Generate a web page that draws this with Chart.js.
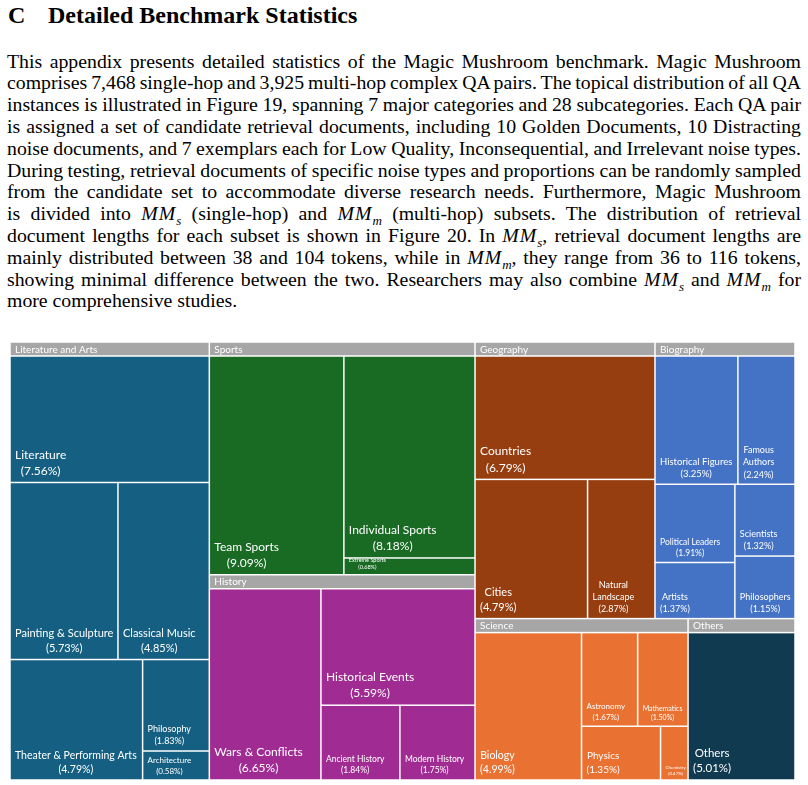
<!DOCTYPE html>
<html>
<head>
<meta charset="utf-8">
<title>Detailed Benchmark Statistics</title>
<script src="https://cdn.jsdelivr.net/npm/chart.js@4.4.1/dist/chart.umd.min.js"></script>
<style>
    body { margin: 0; background: #fff; width: 808px; height: 785px; overflow: hidden; position: relative; font-family: "Liberation Serif", "Times New Roman", serif; color: #000; }
    h2 { position: absolute; left: 8px; top: 3px; margin: 0; font-size: 24px; line-height: 24px; font-weight: bold; white-space: nowrap; }
    h2 .num { display: inline-block; width: 40px; }
    #para { position: absolute; left: 7px; top: 50.6px; width: 794px; font-size: 19.8px; line-height: 21.8px; }
    #para div { white-space: nowrap; }
    #para div span.line { display: inline-block; }
    #para i.m { letter-spacing: 1px; }
    #para sub { font-size: 13px; line-height: 0; font-style: italic; }
    #chart-wrap { position: absolute; left: 0; top: 335px; width: 808px; height: 450px; }
</style>
</head>
<body>
<h2><span class="num">C</span>Detailed Benchmark Statistics</h2>
<div id="para">
    <div><span class="line">This appendix presents detailed statistics of the Magic Mushroom benchmark. Magic Mushroom</span></div>
    <div><span class="line">comprises 7,468 single-hop and 3,925 multi-hop complex QA pairs. The topical distribution of all QA</span></div>
    <div><span class="line">instances is illustrated in Figure 19, spanning 7 major categories and 28 subcategories. Each QA pair</span></div>
    <div><span class="line">is assigned a set of candidate retrieval documents, including 10 Golden Documents, 10 Distracting</span></div>
    <div><span class="line">noise documents, and 7 exemplars each for Low Quality, Inconsequential, and Irrelevant noise types.</span></div>
    <div><span class="line">During testing, retrieval documents of specific noise types and proportions can be randomly sampled</span></div>
    <div><span class="line">from the candidate set to accommodate diverse research needs. Furthermore, Magic Mushroom</span></div>
    <div><span class="line">is divided into <i class="m">MM</i><sub>s</sub> (single-hop) and <i class="m">MM</i><sub>m</sub> (multi-hop) subsets. The distribution of retrieval</span></div>
    <div><span class="line">document lengths for each subset is shown in Figure 20. In <i class="m">MM</i><sub>s</sub>, retrieval document lengths are</span></div>
    <div><span class="line">mainly distributed between 38 and 104 tokens, while in <i class="m">MM</i><sub>m</sub>, they range from 36 to 116 tokens,</span></div>
    <div><span class="line">showing minimal difference between the two. Researchers may also combine <i class="m">MM</i><sub>s</sub> and <i class="m">MM</i><sub>m</sub> for</span></div>
    <div class="last"><span>more comprehensive studies.</span></div>
</div>
<div id="chart-wrap"><canvas id="treemap" width="808" height="450"></canvas></div>

<script>
// Major categories
const groups = ['Literature and Arts', 'Sports', 'History', 'Geography', 'Biography', 'Science', 'Others'];

// Subcategories, their share of all QA pairs (%) and the category they belong to
const subcategories = [
    'Literature', 'Painting & Sculpture', 'Classical Music', 'Theater & Performing Arts', 'Philosophy', 'Architecture',
    'Team Sports', 'Individual Sports', 'Extreme Sports',
    'Wars & Conflicts', 'Historical Events', 'Ancient History', 'Modern History',
    'Countries', 'Cities', 'Natural Landscape',
    'Historical Figures', 'Famous Authors', 'Political Leaders', 'Artists', 'Scientists', 'Philosophers',
    'Biology', 'Astronomy', 'Mathematics', 'Physics', 'Chemistry',
    'Others'
];
const shares = [
    7.56, 5.73, 4.85, 4.79, 1.83, 0.58,
    9.09, 8.18, 0.68,
    6.65, 5.59, 1.84, 1.75,
    6.79, 4.79, 2.87,
    3.25, 2.24, 1.91, 1.37, 1.32, 1.15,
    4.99, 1.67, 1.50, 1.35, 0.47,
    5.01
];
const groupOf = [
    0, 0, 0, 0, 0, 0,
    1, 1, 1,
    2, 2, 2, 2,
    3, 3, 3,
    4, 4, 4, 4, 4, 4,
    5, 5, 5, 5, 5,
    6
];

// Styles
const groupColors = ['#156082', '#196b24', '#a02b93', '#973e10', '#4472c4', '#e97132', '#0f3a50'];
const headerColor = '#a6a6a6';
const headerHeight = 14;
const labelFont = 'Lato, "Open Sans", sans-serif';
const labelSize = {
    'Literature': 12, 'Painting & Sculpture': 11, 'Classical Music': 11, 'Theater & Performing Arts': 10.5,
    'Philosophy': 9, 'Architecture': 8,
    'Team Sports': 12, 'Individual Sports': 12, 'Extreme Sports': 5.5,
    'Wars & Conflicts': 12, 'Historical Events': 12, 'Ancient History': 8.5, 'Modern History': 8.5,
    'Countries': 12, 'Cities': 11, 'Natural Landscape': 9,
    'Historical Figures': 9.5, 'Famous Authors': 9, 'Political Leaders': 8.5, 'Artists': 9, 'Scientists': 9, 'Philosophers': 9,
    'Biology': 10.5, 'Astronomy': 8, 'Mathematics': 7, 'Physics': 10, 'Chemistry': 4.5,
    'Others': 11.5
};

// How the rectangles are sliced: 'h' = side by side, 'v' = stacked
const groupLayout = { d: 'h', c: [0, { d: 'v', c: [1, 2] }, { d: 'v', c: [{ d: 'h', c: [3, 4] }, { d: 'h', c: [5, 6] }] }] };
const cellLayout = [
    { d: 'v', c: [0, { d: 'h', c: [1, 2] }, { d: 'h', c: [3, { d: 'v', c: [4, 5] }] }] },
    { d: 'h', c: [6, { d: 'v', c: [7, 8] }] },
    { d: 'h', c: [9, { d: 'v', c: [10, { d: 'h', c: [11, 12] }] }] },
    { d: 'v', c: [13, { d: 'h', c: [14, 15] }] },
    { d: 'v', c: [{ d: 'h', c: [16, 17] }, { d: 'h', c: [{ d: 'v', c: [18, 19] }, { d: 'v', c: [20, 21] }] }] },
    { d: 'h', c: [22, { d: 'v', c: [{ d: 'h', c: [23, 24] }, { d: 'h', c: [25, 26] }] }] },
    27
];

// Justify each paragraph line to the full column width (like the typeset page)
document.querySelectorAll('#para span.line').forEach(function(span) {
    const natural = span.getBoundingClientRect().width;
    const gaps = (span.textContent.match(/ /g) || []).length;
    if (gaps > 0) span.style.wordSpacing = ((794 - natural) / gaps) + 'px';
});

const groupTotal = g => shares.reduce((s, v, i) => s + (groupOf[i] === g ? v : 0), 0);

function weightOf(node, weight) {
    if (typeof node === 'number') return weight(node);
    return node.c.reduce((s, c) => s + weightOf(c, weight), 0);
}

function slice(node, r, weight, out) {
    if (typeof node === 'number') {
        out.push({ i: node, r: r });
        return;
    }
    const total = weightOf(node, weight);
    let pos = node.d === 'h' ? r.x : r.y;
    node.c.forEach(function(c) {
        const frac = weightOf(c, weight) / total;
        const sub = node.d === 'h'
            ? { x: pos, y: r.y, w: r.w * frac, h: r.h }
            : { x: r.x, y: pos, w: r.w, h: r.h * frac };
        pos += node.d === 'h' ? sub.w : sub.h;
        slice(c, sub, weight, out);
    });
}

function wrapWords(ctx, text, maxW) {
    const words = text.split(' ');
    const lines = [];
    let line = '';
    words.forEach(function(w) {
        const test = line ? line + ' ' + w : w;
        if (line && ctx.measureText(test).width > maxW) {
            lines.push(line);
            line = w;
        } else {
            line = test;
        }
    });
    if (line) lines.push(line);
    return lines;
}

function fillBox(ctx, r, color) {
    ctx.fillStyle = color;
    ctx.fillRect(r.x + 0.75, r.y + 0.75, r.w - 1.5, r.h - 1.5);
}

const treemapPlugin = {
    id: 'treemapCells',
    afterDatasetsDraw(chart) {
        const { ctx, scales: { x, y } } = chart;
        const left = x.getPixelForValue(0);
        const right = x.getPixelForValue(1);
        const top = y.getPixelForValue(1);
        const bottom = y.getPixelForValue(0);

        const groupRects = [];
        slice(groupLayout, { x: left, y: top, w: right - left, h: bottom - top }, groupTotal, groupRects);

        ctx.save();
        groupRects.forEach(function(gr) {
            const g = gr.i;
            const r = gr.r;

            // category header strip
            const head = { x: r.x, y: r.y, w: r.w, h: headerHeight };
            fillBox(ctx, head, headerColor);
            ctx.fillStyle = '#ffffff';
            ctx.font = '10px ' + labelFont;
            ctx.textAlign = 'left';
            ctx.textBaseline = 'middle';
            ctx.fillText(groups[g], r.x + 5, r.y + headerHeight / 2 + 0.5);

            // subcategory cells
            const cells = [];
            const inner = { x: r.x, y: r.y + headerHeight, w: r.w, h: r.h - headerHeight };
            slice(cellLayout[g], inner, i => shares[i], cells);

            cells.forEach(function(cell) {
                const c = cell.r;
                const name = subcategories[cell.i];
                fillBox(ctx, c, groupColors[g]);

                const size = labelSize[name] || 10;
                ctx.font = size + 'px ' + labelFont;
                const lines = wrapWords(ctx, name, c.w - 4);
                lines.push('(' + shares[cell.i].toFixed(2) + '%)');
                const blockW = Math.max.apply(null, lines.map(l => ctx.measureText(l).width));
                const lh = size * 1.35;
                const cx = c.x + 5 + blockW / 2;
                let ly = c.y + c.h - 3.5 - lh * (lines.length - 1) - lh / 2;
                ctx.fillStyle = '#ffffff';
                ctx.textAlign = 'center';
                ctx.textBaseline = 'middle';
                lines.forEach(function(l) {
                    ctx.fillText(l, cx, ly);
                    ly += lh;
                });
            });
        });
        ctx.restore();
    }
};

const chart = new Chart(document.getElementById('treemap').getContext('2d'), {
    type: 'scatter',
    data: {
        datasets: [{ data: [], pointRadius: 0 }]
    },
    options: {
        responsive: false,
        animation: false,
        layout: {
            padding: { left: 10, right: 13, top: 7, bottom: 5 }
        },
        plugins: {
            legend: { display: false },
            tooltip: { enabled: false }
        },
        scales: {
            x: { type: 'linear', min: 0, max: 1, display: false },
            y: { type: 'linear', min: 0, max: 1, display: false }
        }
    },
    plugins: [treemapPlugin]
});
</script>
</body>
</html>
